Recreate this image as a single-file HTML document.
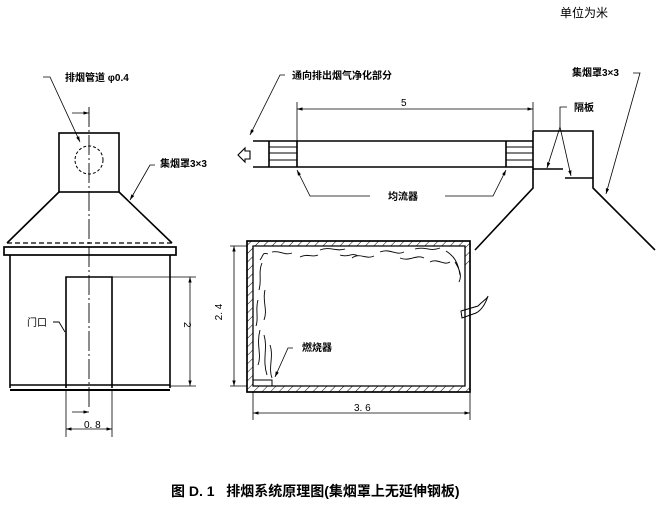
<!DOCTYPE html>
<html><head><meta charset="utf-8"><style>
html,body{margin:0;padding:0;background:#fff;}
svg{display:block;}
text{font-family:"Liberation Sans","Noto Sans CJK SC",sans-serif;fill:#000;}
</style></head><body>
<svg width="660" height="507" viewBox="0 0 660 507" xmlns="http://www.w3.org/2000/svg">
<defs>
<marker id="a" viewBox="0 0 10 10" refX="10" refY="5" markerWidth="7" markerHeight="7" orient="auto-start-reverse"><path d="M0,2 L10,5 L0,8 z" fill="#000"/></marker>
<pattern id="h" width="6" height="6" patternUnits="userSpaceOnUse" patternTransform="rotate(45)"><line x1="0" y1="0" x2="0" y2="6" stroke="#000" stroke-width="1"/></pattern>
</defs>
<g stroke="#000" fill="none" stroke-width="1.6">
<!-- left figure -->
<rect x="59" y="133" width="60" height="59"/>
<circle cx="89" cy="160" r="14" stroke-dasharray="3,2" stroke-width="1"/>
<path d="M59,192 L7,243 M119,192 L172,243"/>
<line x1="7" y1="243" x2="172" y2="243" stroke-dasharray="5,3" stroke-width="1.2"/>
<rect x="4" y="247" width="172" height="8" stroke-width="1.7"/>
<path d="M10,255 V388 M170,255 V388"/>
<line x1="10" y1="385" x2="170" y2="385"/>
<line x1="10" y1="390" x2="170" y2="390" stroke-width="2"/>
<path d="M66,388 V277 H112 V388"/>
<line x1="89" y1="107" x2="89" y2="407" stroke-width="0.9" stroke-dasharray="20,3,2,3"/>
<path d="M112,277 H196 M170,386 H196" stroke-width="0.8"/>
<line x1="190" y1="277" x2="190" y2="386" stroke-width="0.8" marker-start="url(#a)" marker-end="url(#a)"/>
<path d="M66,390 V437 M112,390 V437" stroke-width="0.8"/>
<line x1="66" y1="429" x2="112" y2="429" stroke-width="0.8" marker-start="url(#a)" marker-end="url(#a)"/>
<line x1="72" y1="113" x2="89" y2="113" stroke-width="0.8" marker-end="url(#a)"/>
<line x1="72" y1="412" x2="89" y2="412" stroke-width="0.8" marker-end="url(#a)"/>
<path d="M43,77 H50 L80,142" stroke-width="0.8" marker-end="url(#a)"/>
<path d="M155,165 H150 L130,200" stroke-width="0.8" marker-end="url(#a)"/>
<path d="M53,322 H59 L65,332" stroke-width="0.9"/>
<!-- duct -->
<path d="M253,141 H533 M253,167 H533"/>
<path d="M269,141 V167 M297,141 V167 M506,141 V167"/>
<path d="M269,147 H297 M269,153 H297 M269,160 H297 M506,147 H533 M506,153 H533 M506,160 H533" stroke-width="1.1"/>
<path d="M297,141 V102 M533,131 V102" stroke-width="0.8"/>
<line x1="297" y1="109" x2="533" y2="109" stroke-width="0.8" marker-start="url(#a)" marker-end="url(#a)"/>
<path d="M245,151 H250 V159 H245 V162 L238,155 L245,148 Z" stroke-width="1.1"/>
<path d="M285,75 H280 L250,135" stroke-width="0.8" marker-end="url(#a)"/>
<!-- hood right -->
<path d="M533,131 H593 V188 L655,250 M533,131 V188 L475,250"/>
<path d="M533,169 H563 M565,178 H593"/>
<path d="M567,107 H560 V127" stroke-width="0.8"/>
<path d="M560,127 L547,168" stroke-width="0.8" marker-end="url(#a)"/>
<path d="M560,127 L571,176" stroke-width="0.8" marker-end="url(#a)"/>
<path d="M633,73 H640 L606,194" stroke-width="0.8" marker-end="url(#a)"/>
<path d="M370,196 H310 L297,170" stroke-width="0.8" marker-end="url(#a)"/>
<path d="M445,196 H493 L506,170" stroke-width="0.8" marker-end="url(#a)"/>
<!-- room -->
<rect x="247" y="241" width="223" height="5" fill="url(#h)" stroke="none"/>
<rect x="247" y="386" width="223" height="6" fill="url(#h)" stroke="none"/>
<rect x="247" y="246" width="6" height="140" fill="url(#h)" stroke="none"/>
<rect x="465" y="246" width="5" height="20" fill="url(#h)" stroke="none"/>
<rect x="247" y="241" width="223" height="151" stroke-width="1.7"/>
<path d="M253,246 H465 V386 H253 Z" stroke-width="1.3"/>
<rect x="253" y="380" width="19" height="6" stroke-width="1"/>
<path d="M247,246 H230 M247,386 H230" stroke-width="0.8"/>
<line x1="234" y1="246" x2="234" y2="386" stroke-width="0.8" marker-start="url(#a)" marker-end="url(#a)"/>
<path d="M253,392 V420 M470,392 V420" stroke-width="0.8"/>
<line x1="253" y1="413" x2="470" y2="413" stroke-width="0.8" marker-start="url(#a)" marker-end="url(#a)"/>
<path d="M293,348 H288 L275,377" stroke-width="0.8" marker-end="url(#a)"/>
<path d="M461,311 L478,306 C484,300 488,298 488,296 C486,302 482,310 476,313 L462,318 Z" stroke-width="1"/>
<!-- flames -->
<g stroke-width="0.9">
<path d="M260,260 C264,255 262,252 268,254 M272,252 C280,250 285,256 292,253 M300,257 C308,253 312,258 318,255 M320,250 C330,246 336,252 345,249 M352,258 C360,252 366,260 374,256 M340,255 C348,258 352,252 358,256 M380,252 C390,248 396,256 404,252 M400,258 C410,262 416,254 424,258 M415,249 C425,246 430,252 440,248 M430,262 C438,258 444,266 450,262 M446,251 C454,256 458,262 460,275 M455,262 C460,270 462,276 459,282"/>
<path d="M262,263 C258,272 262,280 259,290 M265,290 C262,300 268,310 264,320 M260,330 C256,345 262,355 258,365 M264,335 C268,348 262,360 267,375 M270,345 C274,356 268,368 272,378 M258,300 C255,310 259,318 256,326"/>
</g>
</g>
<g font-weight="bold" font-size="10">
<text x="65" y="81">排烟管道 φ0.4</text>
<text x="160" y="167">集烟罩3×3</text>
<text x="27" y="326" font-weight="normal">门口</text>
<text x="84" y="428" font-weight="normal">0. 8</text>
<text x="292" y="79">通向排出烟气净化部分</text>
<text x="401" y="106" font-weight="normal">5</text>
<text x="572" y="76">集烟罩3×3</text>
<text x="574" y="111">隔板</text>
<text x="388" y="200">均流器</text>
<text x="302" y="351">燃烧器</text>
<text x="354" y="411" font-weight="normal">3. 6</text>
<text font-weight="normal" transform="translate(184,322) rotate(90)">2</text>
<text font-weight="normal" transform="translate(222,312) rotate(-90)" text-anchor="middle">2. 4</text>
</g>
<text x="560" y="17" font-size="12">单位为米</text>
<text x="171" y="496" font-size="14" font-weight="bold">图 D. 1&#160;&#160;&#160;排烟系统原理图(集烟罩上无延伸钢板)</text>
</svg>
</body></html>
